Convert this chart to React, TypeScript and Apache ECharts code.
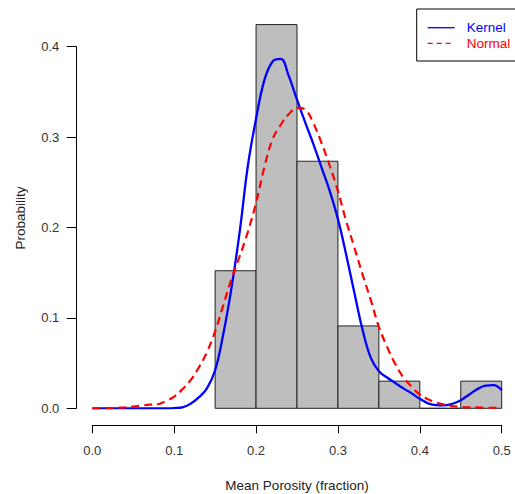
import React, { useEffect, useRef } from "react";
import * as echarts from "echarts";

// Histogram bins (fraction of samples)
const binStarts = [0.15, 0.2, 0.25, 0.3, 0.35, 0.4, 0.45];
const binEnds = [0.2, 0.25, 0.3, 0.35, 0.4, 0.45, 0.5];
const binProb = [0.152, 0.424, 0.273, 0.091, 0.03, 0, 0.03];

// Curve sample positions
const curveX = [
  0, 0.01, 0.02, 0.03, 0.04, 0.05, 0.06, 0.07, 0.08, 0.09,
  0.1, 0.11, 0.12, 0.13, 0.14, 0.15, 0.16, 0.17, 0.18, 0.19,
  0.2, 0.21, 0.22, 0.23, 0.24, 0.25, 0.26, 0.27, 0.28, 0.29,
  0.3, 0.31, 0.32, 0.33, 0.34, 0.35, 0.36, 0.37, 0.38, 0.39,
  0.4, 0.41, 0.42, 0.43, 0.44, 0.45, 0.46, 0.47, 0.48, 0.49, 0.5,
];

// Kernel density curve
const kernel = [
  0, 0, 0, 0, 0, 0, 0, 0, 0, 0,
  0.0003, 0.001, 0.005, 0.012, 0.022, 0.042, 0.082, 0.133, 0.195, 0.268,
  0.32, 0.362, 0.383, 0.386, 0.367, 0.341, 0.316, 0.292, 0.266, 0.24,
  0.209, 0.17, 0.128, 0.087, 0.056, 0.041, 0.034, 0.028, 0.022, 0.0165,
  0.0105, 0.0055, 0.0035, 0.0033, 0.005, 0.009, 0.015, 0.021, 0.025, 0.0255, 0.02,
];

// Normal fit curve
const normal = [
  0, 0, 0, 0.0005, 0.001, 0.002, 0.003, 0.004, 0.0045, 0.008,
  0.013, 0.021, 0.031, 0.045, 0.062, 0.085, 0.114, 0.143, 0.168, 0.195,
  0.227, 0.266, 0.297, 0.313, 0.325, 0.332, 0.33, 0.315, 0.293, 0.268,
  0.24, 0.207, 0.178, 0.148, 0.12, 0.09, 0.068, 0.049, 0.034, 0.024,
  0.015, 0.01, 0.0065, 0.004, 0.0025, 0.0015, 0.001, 0.001, 0.0005, 0.0005, 0.0005,
];

const xTitle = "Mean Porosity (fraction)";
const yTitle = "Probability";
const FONT = '"Liberation Sans", Arial, sans-serif';

export default function App() {
  const ref = useRef<HTMLDivElement>(null);
  useEffect(() => {
    if (!ref.current) return;
    const chart = echarts.init(ref.current, undefined, { renderer: "svg" });
    const bins = binStarts.map((s, i) => [s, binEnds[i], binProb[i]]);
    const hiddenSymbol = { color: "rgba(0,0,0,0)", borderColor: "rgba(0,0,0,0)", borderWidth: 0 };
    const noBounds = { outerBoundsMode: "none", containLabel: false };
    const labelStyle = {
      fontSize: 13,
      color: "#333",
      fontFamily: FONT,
      formatter: (v: number) => v.toFixed(1),
    };
    chart.setOption({
      animation: false,
      backgroundColor: "#ffffff",
      grid: [
        // y-axis frame
        { ...noBounds, left: 76.3, right: 13.3, top: 46.7, bottom: 85.7 },
        // x-axis frame
        { ...noBounds, left: 92.3, right: 13.3, top: 400, bottom: 69 },
        // data area
        { ...noBounds, left: 92.3, right: 13.3, top: 10.1, bottom: 85.7 },
      ],
      xAxis: [
        { gridIndex: 0, type: "value", min: 0, max: 1, show: false },
        {
          gridIndex: 1,
          type: "value",
          position: "bottom",
          min: 0,
          max: 0.5,
          interval: 0.1,
          axisLine: { show: true, lineStyle: { color: "#000", width: 1, type: "solid" } },
          axisTick: { show: true, inside: false, length: 8.3, lineStyle: { color: "#000", width: 1, type: "solid" } },
          axisLabel: { ...labelStyle, margin: 19 },
          splitLine: { show: false },
          name: xTitle,
          nameLocation: "middle",
          nameGap: 53,
          nameTextStyle: { fontSize: 13.5, color: "#222", fontFamily: FONT },
        },
        { gridIndex: 2, type: "value", min: 0, max: 0.5, show: false },
      ],
      yAxis: [
        {
          gridIndex: 0,
          type: "value",
          position: "left",
          min: 0,
          max: 0.4,
          interval: 0.1,
          axisLine: { show: true, lineStyle: { color: "#000", width: 1, type: "solid" } },
          axisTick: { show: true, inside: false, length: 9.6, lineStyle: { color: "#000", width: 1, type: "solid" } },
          axisLabel: { ...labelStyle, margin: 17 },
          splitLine: { show: false },
        },
        { gridIndex: 1, type: "value", min: 0, max: 1, show: false },
        { gridIndex: 2, type: "value", min: 0, max: 0.44, show: false },
      ],
      legend: {
        orient: "vertical",
        left: 416.7,
        top: 9,
        padding: [11.7, 6, 10.7, 10.3],
        itemWidth: 27,
        itemHeight: 14,
        itemGap: 1.6,
        borderColor: "#000",
        borderWidth: 1,
        backgroundColor: "#fff",
        textStyle: { fontSize: 13.5, fontFamily: FONT, padding: [0, 0, 0, 7] },
        data: [
          {
            name: "Kernel",
            lineStyle: { width: 1.3, type: "solid", color: "#0000ff" },
            itemStyle: hiddenSymbol,
            textStyle: { color: "#0000ff" },
          },
          {
            name: "Normal",
            lineStyle: { width: 1.3, type: [5, 4], color: "#ff0000" },
            itemStyle: hiddenSymbol,
            textStyle: { color: "#ff0000" },
          },
        ],
      },
      graphic: [
        {
          type: "text",
          x: 20,
          y: 218,
          rotation: Math.PI / 2,
          style: {
            text: yTitle,
            fontSize: 13.5,
            fontFamily: FONT,
            fill: "#222",
            align: "center",
            verticalAlign: "middle",
          },
        },
      ],
      series: [
        {
          type: "custom",
          name: "Histogram",
          xAxisIndex: 2,
          yAxisIndex: 2,
          data: bins,
          encode: { x: [0, 1], y: 2 },
          renderItem: (params: any, api: any) => {
            const p0 = api.coord([api.value(0), api.value(2)]);
            const p1 = api.coord([api.value(1), 0]);
            return {
              type: "rect",
              shape: { x: p0[0], y: p0[1], width: p1[0] - p0[0], height: p1[1] - p0[1] },
              style: { fill: "#bebebe", stroke: "#222", lineWidth: 1 },
            };
          },
          z: 1,
        },
        {
          type: "line",
          name: "Kernel",
          xAxisIndex: 2,
          yAxisIndex: 2,
          data: curveX.map((x, i) => [x, kernel[i]]),
          symbol: "none",
          smooth: 0.4,
          lineStyle: { color: "#0000ff", width: 2.3 },
          itemStyle: { color: "#0000ff" },
          z: 2,
        },
        {
          type: "line",
          name: "Normal",
          xAxisIndex: 2,
          yAxisIndex: 2,
          data: curveX.map((x, i) => [x, normal[i]]),
          symbol: "none",
          smooth: 0.4,
          lineStyle: { color: "#ff0000", width: 2.2, type: [8, 5] },
          itemStyle: { color: "#ff0000" },
          z: 3,
        },
      ],
    });
    return () => chart.dispose();
  }, []);
  return (
    <div
      ref={ref}
      style={{ position: "fixed", left: 0, top: 0, width: 515, height: 494, background: "#fff" }}
    />
  );
}
